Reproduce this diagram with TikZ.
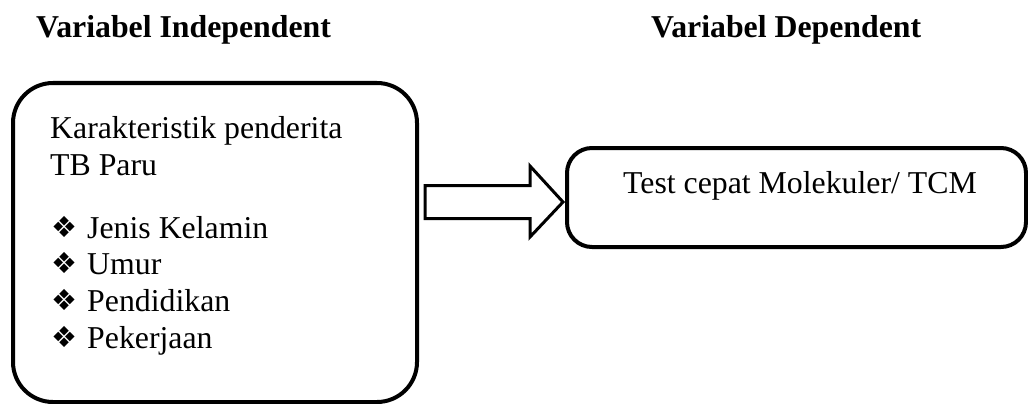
\documentclass[tikz,border=0pt]{standalone}
\usepackage{fontspec}
\setmainfont{Liberation Serif}
\newfontfamily\symfont{DejaVu Sans}
\begin{document}
\begin{tikzpicture}[x=1pt,y=-1pt,
  box/.style={draw,line width=4pt,rounded corners=#1,inner sep=0pt},
  txt/.style={anchor=base west,inner sep=0pt,font=\fontsize{31.8}{37}\selectfont},
  head/.style={anchor=base west,inner sep=0pt,font=\fontsize{31.8}{37}\selectfont\bfseries},
  bul/.style={anchor=base west,inner sep=0pt,font=\fontsize{29}{30}\symfont},
  blockarrow/.style={draw,line width=3pt,line join=miter,fill=white}]
\useasboundingbox (0,0) rectangle (1028,404);
\node[box=40pt,minimum width=404pt,minimum height=319pt] (left) at (215,242.5) {};
\node[box=25pt,minimum width=459pt,minimum height=99pt] (right) at (796.5,197.5) {};
\node[head] (h1) at (36,38) {Variabel Independent};
\node[head] (h2) at (651,38) {Variabel Dependent};
\node[txt] (t1) at (50,138) {Karakteristik penderita};
\node[txt] (t2) at (50,175) {TB Paru};
\node[bul] (b1) at (51,237) {❖};
\node[txt] (i1) at (87,238) {Jenis Kelamin};
\node[bul] (b2) at (51,273.5) {❖};
\node[txt] (i2) at (87,274.5) {Umur};
\node[bul] (b3) at (51,310.5) {❖};
\node[txt] (i3) at (87,311.5) {Pendidikan};
\node[bul] (b4) at (51,347) {❖};
\node[txt] (i4) at (87,348) {Pekerjaan};
\node[txt,anchor=base] (rt) at (800,193) {Test cepat Molekuler/ TCM};
\coordinate (tip) at ([xshift=-2pt]right.west |- 0,202);
\coordinate (tail) at ([xshift=6pt]left.east |- 0,202);
\draw[blockarrow] ([yshift=-16.5pt]tail) -- ([xshift=-33pt,yshift=-16.5pt]tip)
  -- ([xshift=-33pt,yshift=-35pt]tip) -- (tip) -- ([xshift=-33pt,yshift=36pt]tip)
  -- ([xshift=-33pt,yshift=16.5pt]tip) -- ([yshift=16.5pt]tail) -- cycle;
\end{tikzpicture}
\end{document}
